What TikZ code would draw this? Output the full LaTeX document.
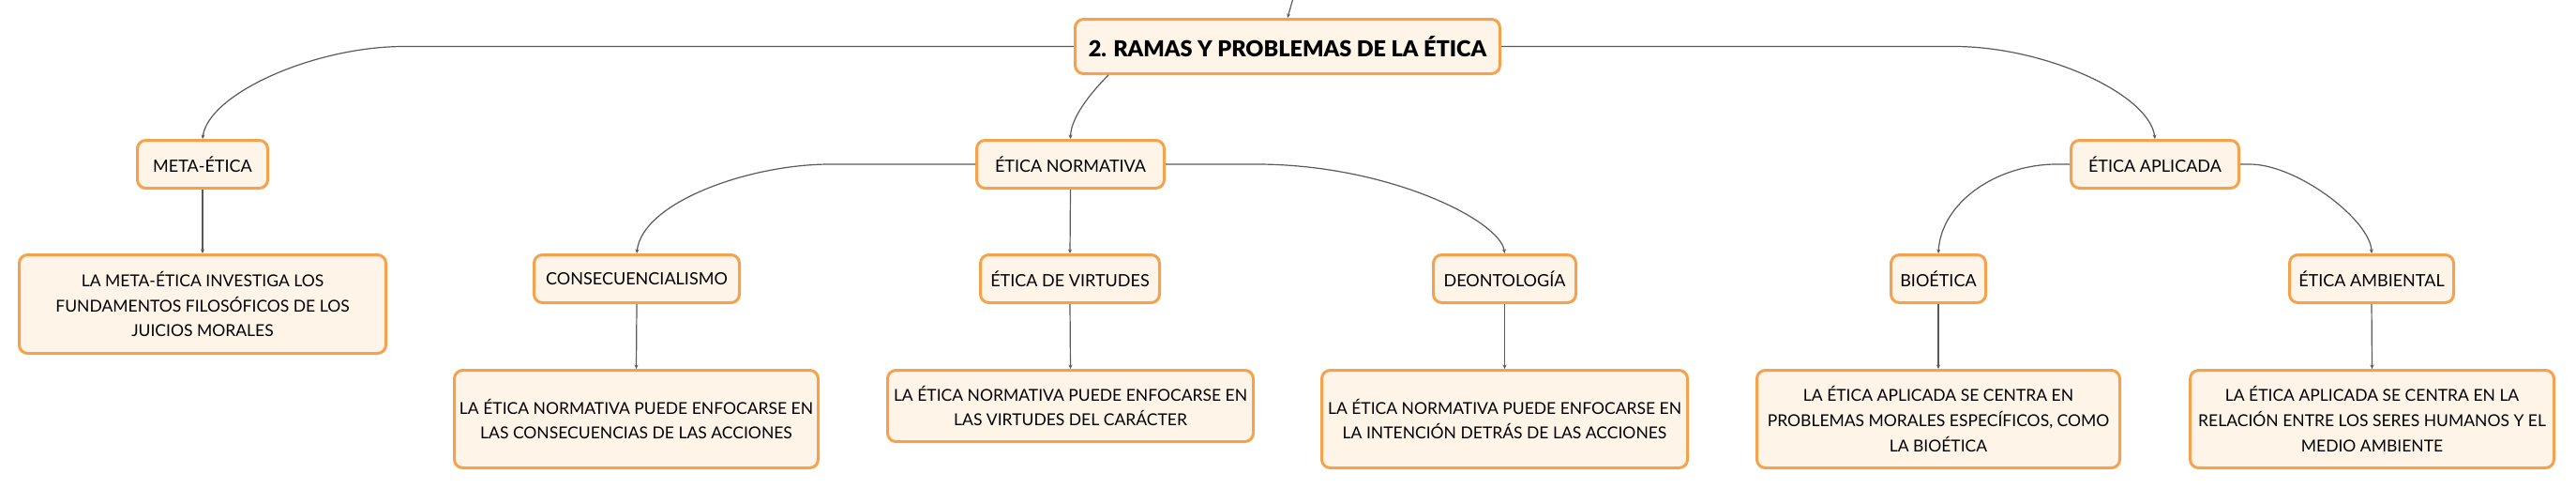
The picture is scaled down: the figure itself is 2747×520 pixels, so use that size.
\documentclass[tikz,border=0pt]{standalone}
\usepackage{fontspec}
\setmainfont{Lato}
\newfontfamily\rootfont{Lato Black}
\usetikzlibrary{arrows.meta,calc}
\definecolor{boxborder}{HTML}{F4A24E}
\definecolor{boxfill}{HTML}{FEF4E8}
\definecolor{conncol}{HTML}{5A5A5A}
\tikzset{
  mapbox/.style={draw=boxborder, line width=3pt, fill=boxfill, rounded corners=9pt,
    align=center, inner sep=0pt, minimum height=51pt, text=black,
    font=\fontsize{18}{26.7}\selectfont},
  descbox/.style={mapbox, font=\fontsize{17.5}{26.7}\selectfont},
  rootbox/.style={mapbox, font=\fontsize{23.5}{28}\selectfont\rootfont},
  conn/.style={draw=conncol, line width=1.2pt, -{Stealth[length=4.5pt,width=4pt]}},
}
\begin{document}
\begin{tikzpicture}[x=1pt,y=-1pt]
\useasboundingbox[fill=white] (0,0) rectangle (2747,520);

% nodes
\node[rootbox, minimum width=453pt, minimum height=58pt] (root) at (1373,49.5) {2. RAMAS Y PROBLEMAS DE LA ÉTICA};

\node[mapbox, minimum width=139pt] (meta) at (216,175) {META-ÉTICA};
\node[mapbox, minimum width=200pt] (norm) at (1141.5,175) {ÉTICA NORMATIVA};
\node[mapbox, minimum width=179pt] (apl) at (2298,175) {ÉTICA APLICADA};

\node[mapbox, minimum width=219pt] (cons) at (679,297) {CONSECUENCIALISMO};
\node[mapbox, minimum width=191pt] (virt) at (1141,297) {ÉTICA DE VIRTUDES};
\node[mapbox, minimum width=152pt] (deont) at (1604.5,297) {DEONTOLOGÍA};
\node[mapbox, minimum width=101pt] (bio) at (2067,297) {BIOÉTICA};
\node[mapbox, minimum width=175pt] (amb) at (2529,297) {ÉTICA AMBIENTAL};

\node[descbox, minimum width=391pt, minimum height=105pt] (metad) at (216,324) {LA META-ÉTICA INVESTIGA LOS\\FUNDAMENTOS FILOSÓFICOS DE LOS\\JUICIOS MORALES};
\node[descbox, minimum width=388pt, minimum height=104pt] (consd) at (678.5,446.5) {LA ÉTICA NORMATIVA PUEDE ENFOCARSE EN\\LAS CONSECUENCIAS DE LAS ACCIONES};
\node[descbox, minimum width=390pt, minimum height=76pt] (virtd) at (1141.5,432.5) {LA ÉTICA NORMATIVA PUEDE ENFOCARSE EN\\LAS VIRTUDES DEL CARÁCTER};
\node[descbox, minimum width=390pt, minimum height=104pt] (deontd) at (1604.5,446.5) {LA ÉTICA NORMATIVA PUEDE ENFOCARSE EN\\LA INTENCIÓN DETRÁS DE LAS ACCIONES};
\node[descbox, minimum width=387pt, minimum height=104pt] (biod) at (2067,446.5) {LA ÉTICA APLICADA SE CENTRA EN\\PROBLEMAS MORALES ESPECÍFICOS, COMO\\LA BIOÉTICA};
\node[descbox, minimum width=388pt, minimum height=104pt] (ambd) at (2529.5,446.5) {LA ÉTICA APLICADA SE CENTRA EN LA\\RELACIÓN ENTRE LOS SERES HUMANOS Y EL\\MEDIO AMBIENTE};

% incoming connector from above
\coordinate (parent) at (1379,-2);
\draw[conn] (parent) -- (root.north);

% root connectors
\draw[conn] (root.west) -- (431,49.5) .. controls (335,49.5) and (222,100) .. (meta.north);
\draw[conn] ($(root.south west)+(37,0)$) .. controls (1170,92) and (1142,122) .. (norm.north);
\draw[conn] (root.east) -- (2084,49.5) .. controls (2180,49.5) and (2292,100) .. (apl.north);

% normativa connectors
\draw[conn] (norm.west) -- (885,175) .. controls (800,175) and (685,215) .. (cons.north);
\draw[conn] (norm.south) -- (virt.north);
\draw[conn] (norm.east) -- (1340,175) .. controls (1480,175) and (1600,235) .. (deont.north);

% aplicada connectors
\draw[conn] (apl.west) -- (2193,175) .. controls (2130,175) and (2070,215) .. (bio.north);
\draw[conn] (apl.east) -- (2399,175) .. controls (2450,175) and (2528,235) .. (amb.north);

% to descriptions
\draw[conn] (meta.south) -- (metad.north);
\draw[conn] (cons.south) -- (consd.north);
\draw[conn] (virt.south) -- (virtd.north);
\draw[conn] (deont.south) -- (deontd.north);
\draw[conn] (bio.south) -- (biod.north);
\draw[conn] (amb.south) -- (ambd.north);
\end{tikzpicture}
\end{document}
